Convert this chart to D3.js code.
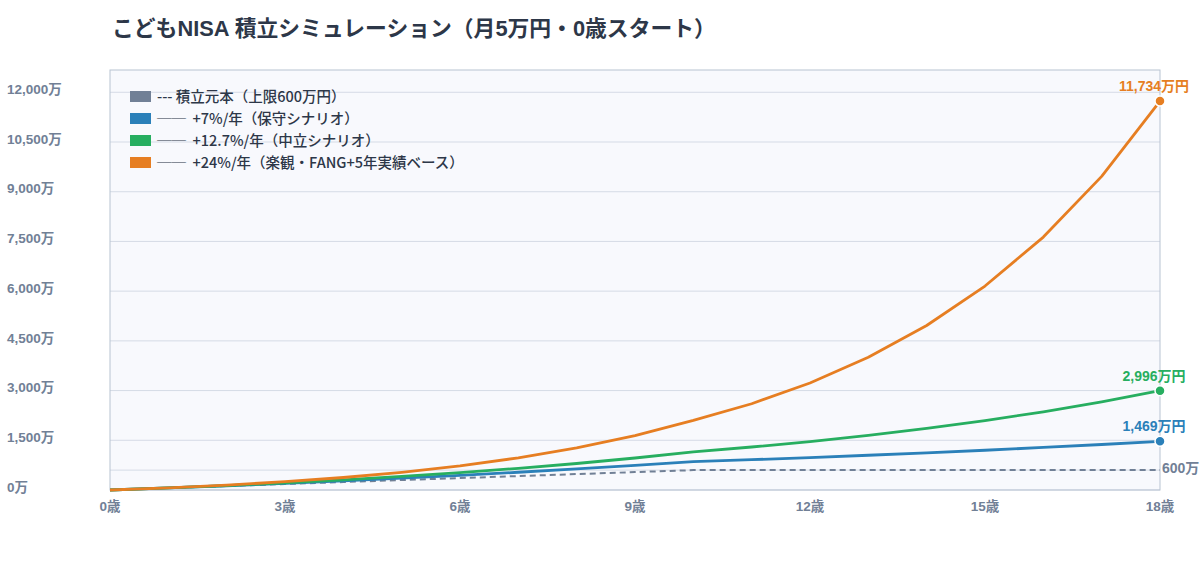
<!DOCTYPE html>
<html>
<head>
<meta charset="utf-8">
<script src="https://cdn.jsdelivr.net/npm/d3@7"></script>
<style>
  body { margin: 0; background: #ffffff; }
  svg { font-family: "Liberation Sans", "Noto Sans CJK JP", sans-serif; }
</style>
</head>
<body>
<svg id="chart" width="1200" height="580"></svg>
<script>
// こどもNISA simulation, yearly values (万円)

var ages = [0,1,2,3,4,5,6,7,8,9,10,11,12,13,14,15,16,17,18];
var principal = [0,60,120,180,240,300,360,420,480,540,600,600,600,600,600,600,600,600,600];
var conservative = [0,62,128,199,275,356,443,536,635,741,855,915,979,1048,1121,1200,1284,1373,1469];
var neutral = [0,63,135,215,306,409,524,654,800,965,1151,1297,1462,1648,1857,2093,2359,2658,2996];
var optimistic = [0,66,149,251,377,534,728,970,1269,1640,2099,2603,3228,4003,4963,6154,7632,9463,11734];

var yTicks = [0,1500,3000,4500,6000,7500,9000,10500,12000];
var xTicks = [0,3,6,9,12,15,18];

var legendLabels = [
  "--- 積立元本（上限600万円）",
  "──\u00a0\u00a0+7%/年（保守シナリオ）",
  "──\u00a0\u00a0+12.7%/年（中立シナリオ）",
  "──\u00a0\u00a0+24%/年（楽観・FANG+5年実績ベース）"
];
var colors = ["#718096", "#2b80b9", "#27ae60", "#e67e22"];

var svg = d3.select("#chart");
var plotLeft = 110, plotRight = 1160, plotTop = 70, plotBottom = 490;

var x = d3.scaleLinear().domain([0, 18]).range([plotLeft, plotRight]);
var y = d3.scaleLinear().domain([0, 11734 * 1.08]).range([plotBottom, plotTop]);

// title
svg.append("text")
  .attr("x", 112).attr("y", 36)
  .attr("font-size", 21.8).attr("font-weight", "bold")
  .attr("fill", "#2d3748")
  .text("こどもNISA 積立シミュレーション（月5万円・0歳スタート）");

// plot background
svg.append("rect")
  .attr("x", plotLeft).attr("y", plotTop)
  .attr("width", plotRight - plotLeft).attr("height", plotBottom - plotTop)
  .attr("fill", "#f8f9fd");

// grid
svg.selectAll(".grid").data(yTicks.concat([600])).enter()
  .append("line")
  .attr("x1", plotLeft).attr("x2", plotRight)
  .attr("y1", d => y(d)).attr("y2", d => y(d))
  .attr("stroke", "#d5dbe6").attr("stroke-width", 1);

svg.append("rect")
  .attr("x", plotLeft).attr("y", plotTop)
  .attr("width", plotRight - plotLeft).attr("height", plotBottom - plotTop)
  .attr("fill", "none").attr("stroke", "#b8c3d2").attr("stroke-width", 1);

// y labels
svg.selectAll(".ylab").data(yTicks).enter()
  .append("text")
  .attr("x", 7).attr("y", d => y(d) - 3)
  .attr("dy", "0.35em")
  .attr("font-size", 13.5).attr("font-weight", "bold")
  .attr("fill", "#718096")
  .text(d => d3.format(",")(d) + "万");

// x labels
svg.selectAll(".xlab").data(xTicks).enter()
  .append("text")
  .attr("x", d => x(d)).attr("y", 511)
  .attr("text-anchor", "middle")
  .attr("font-size", 13.5).attr("font-weight", "bold")
  .attr("fill", "#718096")
  .text(d => d + "歳");

// lines
var line = d3.line()
  .x((d, i) => x(ages[i]))
  .y(d => y(d));

var series = [principal, conservative, neutral, optimistic];

svg.append("path")
  .attr("d", line(principal))
  .attr("fill", "none")
  .attr("stroke", colors[0]).attr("stroke-width", 2)
  .attr("stroke-dasharray", "6,4");

series.slice(1).forEach(function (s, i) {
  svg.append("path")
    .attr("d", line(s))
    .attr("fill", "none")
    .attr("stroke", colors[i + 1]).attr("stroke-width", 2.8)
    .attr("stroke-linejoin", "round");
});

// end points and labels
var last = ages.length - 1;
series.slice(1).forEach(function (s, i) {
  svg.append("circle")
    .attr("cx", x(ages[last])).attr("cy", y(s[last]))
    .attr("r", 5)
    .attr("fill", colors[i + 1])
    .attr("stroke", "#ffffff").attr("stroke-width", 1.5);
  svg.append("text")
    .attr("x", x(ages[last]) - 6).attr("y", y(s[last]) - 10)
    .attr("text-anchor", "middle")
    .attr("font-size", 14).attr("font-weight", "bold")
    .attr("fill", colors[i + 1])
    .text(d3.format(",")(s[last]) + "万円");
});

svg.append("text")
  .attr("x", x(ages[last]) + 2).attr("y", y(principal[last]) - 2)
  .attr("dy", "0.35em")
  .attr("font-size", 14).attr("font-weight", "bold")
  .attr("fill", colors[0])
  .text(principal[last] + "万");

// legend
var legend = svg.append("g");
legendLabels.forEach(function (t, i) {
  legend.append("rect")
    .attr("x", 130).attr("y", 91 + i * 22)
    .attr("width", 21).attr("height", 11)
    .attr("fill", colors[i]);
  legend.append("text")
    .attr("x", 157).attr("y", 97 + i * 22)
    .attr("dy", "0.35em")
    .attr("font-family", "'Noto Sans CJK JP', sans-serif")
    .attr("font-size", 14.5).attr("font-weight", 500)
    .attr("fill", "#2d3748")
    .text(t);
});
</script>
</body>
</html>
